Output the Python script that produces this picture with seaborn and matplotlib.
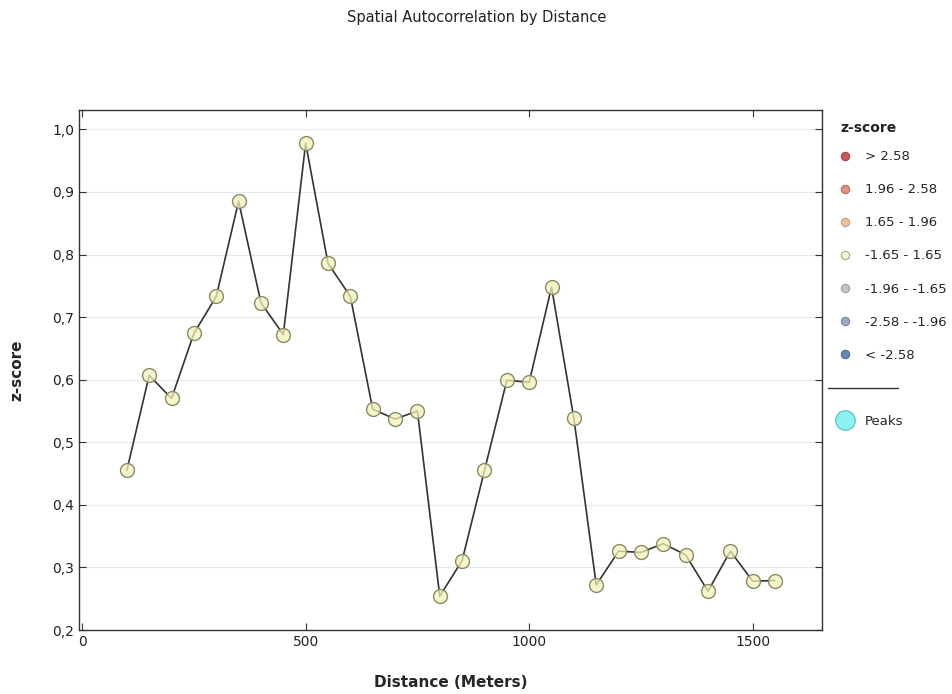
import matplotlib
matplotlib.use("Agg")
import matplotlib.pyplot as plt
import seaborn as sns
import pandas as pd
from matplotlib.lines import Line2D
from matplotlib.ticker import FuncFormatter

distance = [100, 150, 200, 250, 300, 350, 400, 450, 500, 550, 600, 650, 700, 750,
            800, 850, 900, 950, 1000, 1050, 1100, 1150, 1200, 1250, 1300, 1350,
            1400, 1450, 1500, 1550]
zscore = [0.455, 0.607, 0.570, 0.674, 0.733, 0.885, 0.723, 0.672, 0.978, 0.786,
          0.733, 0.553, 0.537, 0.550, 0.254, 0.311, 0.455, 0.599, 0.596, 0.748,
          0.538, 0.272, 0.326, 0.324, 0.338, 0.320, 0.262, 0.326, 0.278, 0.279]

legend_labels = ["> 2.58", "1.96 - 2.58", "1.65 - 1.96", "-1.65 - 1.65",
                 "-1.96 - -1.65", "-2.58 - -1.96", "< -2.58"]
legend_colors = ["#c85a5a", "#e0907f", "#eec0a0", "#f6f6d2",
                 "#c4c4c4", "#98a8c8", "#6a88b8"]
legend_edges = ["#a04848", "#b87060", "#c8a080", "#a8a880",
                "#a0a0a0", "#7888a8", "#506898"]

sns.set_style("white")
plt.rcParams['font.family'] = ['DejaVu Sans']

df = pd.DataFrame({"Distance": distance, "z": zscore})

fig = plt.figure(figsize=(9.53, 6.94), dpi=100)
ax = fig.add_axes([79/953, 1 - 630/694, (822 - 79)/953, (630 - 110)/694])

sns.lineplot(data=df, x="Distance", y="z", ax=ax, color="#333333", linewidth=1.2,
             marker="o", markersize=10, markerfacecolor=(0.95, 0.95, 0.72, 0.75),
             markeredgecolor="#8a8a68", markeredgewidth=1.0)

ax.set_xlim(-7, 1655)
ax.set_ylim(0.2, 1.031)
ax.set_xticks([0, 500, 1000, 1500])
ax.set_yticks([0.2, 0.3, 0.4, 0.5, 0.6, 0.7, 0.8, 0.9, 1.0])
ax.yaxis.set_major_formatter(FuncFormatter(lambda v, p: f"{v:.1f}".replace(".", ",")))
ax.grid(axis="y", color="#e8e8e8", linewidth=0.8)
ax.set_axisbelow(True)
for s in ax.spines.values():
    s.set_color("#333333")
    s.set_linewidth(1.0)
    s.set_visible(True)
ax.tick_params(direction="in", length=5, width=0.8, colors="#333333",
               top=True, right=True, labelsize=10, labelcolor="#222222")
ax.tick_params(axis="both", which="major", bottom=True, left=True)

ax.set_xlabel("Distance (Meters)", fontsize=11, fontweight="bold", labelpad=19)
ax.set_ylabel("z-score", fontsize=11, fontweight="bold", labelpad=20)
fig.suptitle("Spatial Autocorrelation by Distance", fontsize=10.5, y=0.985,
             color="#222222")

handles = [Line2D([], [], linestyle="none", marker="o", markersize=6,
                  markerfacecolor=c, markeredgecolor=e, markeredgewidth=0.8)
           for c, e in zip(legend_colors, legend_edges)]
handles.append(Line2D([], [], linestyle="none"))
handles.append(Line2D([], [], linestyle="none", marker="o", markersize=14,
                      markerfacecolor="#8ff2f2", markeredgecolor="#60c8c8",
                      markeredgewidth=1.0))
labels = legend_labels + ["", "Peaks"]
leg = fig.legend(handles, labels, loc="upper left",
                 bbox_to_anchor=(833/953, 1 - 145/694), frameon=False,
                 fontsize=9.5, labelspacing=1.52, handlelength=1.0,
                 handletextpad=1.0, borderaxespad=0)
fig.text(840/953, 1 - 128/694, "z-score", fontsize=10, fontweight="bold",
         ha="left", va="center", color="#222222")
fig.add_artist(Line2D([828/953, 898/953], [1 - 388/694, 1 - 388/694],
                      transform=fig.transFigure, color="#333333", linewidth=1.0))

fig.savefig("out.png", dpi=100)
